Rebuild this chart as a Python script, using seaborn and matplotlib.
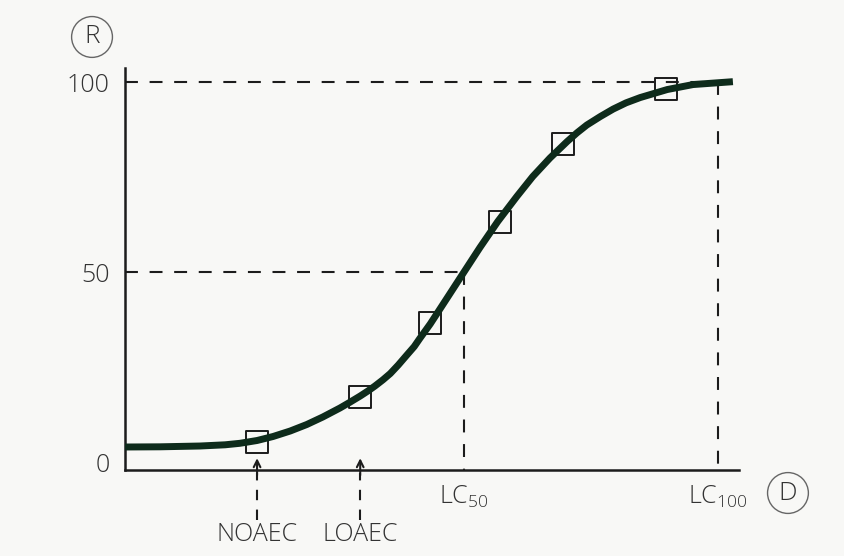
import matplotlib
matplotlib.use("Agg")
import matplotlib.pyplot as plt
import seaborn as sns
import pandas as pd

# dose axis in arbitrary units (0..10), response in %
curve_dose = [0.00, 0.57, 1.22, 1.63, 1.87, 2.15, 2.41, 2.69, 2.96, 3.22,
              3.50, 3.66, 3.83, 3.96, 4.07, 4.20, 4.32, 4.45, 4.59, 4.71,
              4.80, 4.97, 5.24, 5.52, 5.78, 6.07, 6.38, 6.64, 6.92, 7.20,
              7.36, 7.52, 7.74, 7.95, 8.16, 8.39, 8.83, 9.25, 9.90]
curve_resp = [3.95, 4.0, 4.21, 4.53, 4.92, 5.66, 6.71, 8.16, 9.87, 11.84,
              14.21, 15.71, 17.37, 18.74, 20.0, 21.63, 23.29, 25.53, 28.16, 30.39,
              32.5, 36.32, 43.03, 50.0, 56.45, 63.29, 69.87, 75.13, 80.0, 84.34,
              86.63, 88.68, 90.92, 92.89, 94.53, 95.92, 98.03, 99.34, 100.1]

obs_dose = [2.15, 3.83, 4.97, 6.11, 7.13, 8.81]
obs_resp = [5.3, 17.1, 36.6, 63.2, 83.7, 98.2]

lc_doses = [5.52, 9.66]
lc_labels = [r"LC$_{50}$", r"LC$_{100}$"]
lc_resp = [50, 100]

marker_doses = [2.15, 3.83]
marker_labels = ["NOAEC", "LOAEC"]

y_ticks = [0, 50, 100]
y_labels = ["0", "50", "100"]

sns.set_style("white")
plt.rcParams["font.family"] = ["Open Sans", "DejaVu Sans"]
plt.rcParams["font.weight"] = "light"
plt.rcParams["mathtext.fontset"] = "custom"
plt.rcParams["mathtext.rm"] = "Open Sans:light"
plt.rcParams["mathtext.default"] = "regular"

bg = "#f8f8f6"
ink = "#1c1c1c"
txt = "#333333"

fig = plt.figure(figsize=(8.45, 5.56), dpi=100, facecolor=bg)
ax = fig.add_axes([0.148, 0.1547, 0.7266, 0.723], facecolor=bg)

curve = pd.DataFrame({"dose": curve_dose, "resp": curve_resp})
obs = pd.DataFrame({"dose": obs_dose, "resp": obs_resp})

dash = (6.2, 5.6)
# reference lines for LC50 / LC100
for d, r in zip(lc_doses, lc_resp):
    ax.plot([0, d], [r, r], color=ink, lw=1.5, dashes=dash, zorder=1)
    ax.plot([d, d], [r, -2.1], color=ink, lw=1.5, dashes=dash, zorder=1)

sns.scatterplot(data=obs, x="dose", y="resp", marker="s", s=250,
                facecolor="none", edgecolor=ink, linewidth=1.4, ax=ax, zorder=2)
sns.lineplot(data=curve, x="dose", y="resp", color="#0e2b1b", lw=5,
             ax=ax, zorder=3, solid_capstyle="butt", solid_joinstyle="round")

# NOAEC / LOAEC arrows below the axis
for d, lab in zip(marker_doses, marker_labels):
    ax.plot([d, d], [-15.3, -3.0], color=ink, lw=1.5, dashes=(5, 4.5),
            clip_on=False)
    ax.annotate("", xy=(d, 1.0), xytext=(d, -3.5),
                arrowprops=dict(arrowstyle="->", lw=1.5, color=ink,
                                mutation_scale=12, shrinkA=0, shrinkB=0),
                annotation_clip=False)
    ax.text(d, -19.2, lab, ha="center", va="center", fontsize=18,
            color=txt, clip_on=False)

ax.set_xlim(0, 10)
ax.set_ylim(-2.1, 103.7)
ax.set_yticks(y_ticks)
ax.set_yticklabels(y_labels)
ax.set_xticks(lc_doses)
ax.set_xticklabels(lc_labels)
ax.set_xlabel("")
ax.set_ylabel("")
ax.tick_params(axis="y", direction="inout", length=6, width=1.5, color=ink,
               labelsize=18, labelcolor=txt, pad=8)
ax.tick_params(axis="x", direction="inout", length=10, width=1.5, color=ink,
               labelsize=18, labelcolor=txt, pad=5)
ax.yaxis.get_major_ticks()[0].tick1line.set_visible(False)

sns.despine(ax=ax)
for side in ["left", "bottom"]:
    ax.spines[side].set_color(ink)
    ax.spines[side].set_linewidth(1.8)

circ = dict(boxstyle="circle,pad=0.3", fc="none", ec="#666666", lw=1.0)
fig.text(0.1089, 0.9335, "R", ha="center", va="center", fontsize=19,
         color=txt, bbox=circ)
fig.text(0.9325, 0.1133, "D", ha="center", va="center", fontsize=19,
         color=txt, bbox=circ)

fig.savefig("out.png", dpi=100, facecolor=bg)
